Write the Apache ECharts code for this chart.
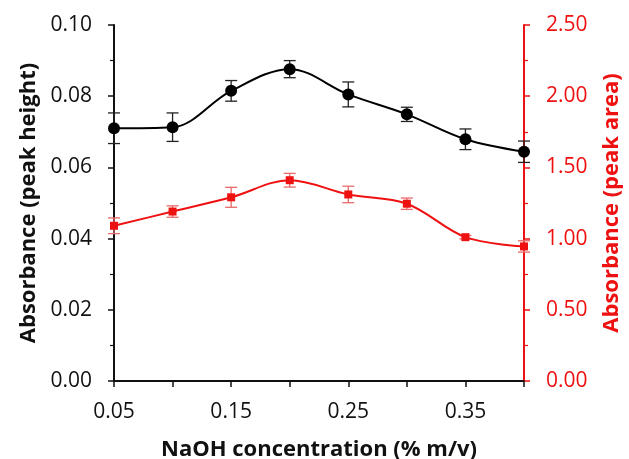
<!DOCTYPE html>
<html>
<head>
<meta charset="utf-8">
<script src="https://cdn.jsdelivr.net/npm/echarts@6/dist/echarts.min.js"></script>
<style>
html, body { margin: 0; padding: 0; background: #fff; }
#main { width: 629px; height: 459px; }
</style>
</head>
<body>
<div id="main"></div>
<script>
// NaOH 浓度
let conc = [0.05, 0.10, 0.15, 0.20, 0.25, 0.30, 0.35, 0.40];
// 峰高 (左轴)
let heightVal = [0.0710, 0.0713, 0.0815, 0.0876, 0.0805, 0.0749, 0.0679, 0.0644];
let heightErr = [0.0043, 0.0040, 0.0029, 0.0024, 0.0035, 0.0020, 0.0029, 0.0030];
// 峰面积 (右轴)
let areaVal = [1.09, 1.19, 1.29, 1.41, 1.31, 1.245, 1.01, 0.945];
let areaErr = [0.055, 0.040, 0.070, 0.048, 0.058, 0.040, 0.012, 0.040];

let font = "'Open Sans', sans-serif";

function pairs(vals) {
    return conc.map((x, i) => [x, vals[i]]);
}
function errPairs(vals, errs) {
    return conc.map((x, i) => [x, vals[i] - errs[i], vals[i] + errs[i]]);
}
// 误差棒
function errBar(color) {
    return function (params, api) {
        let lo = api.coord([api.value(0), api.value(1)]);
        let hi = api.coord([api.value(0), api.value(2)]);
        let w = 6;
        let st = { stroke: color, lineWidth: 1.3 };
        return {
            type: 'group',
            children: [
                { type: 'line', shape: { x1: lo[0], y1: lo[1], x2: hi[0], y2: hi[1] }, style: st },
                { type: 'line', shape: { x1: lo[0] - w, y1: lo[1], x2: lo[0] + w, y2: lo[1] }, style: st },
                { type: 'line', shape: { x1: hi[0] - w, y1: hi[1], x2: hi[0] + w, y2: hi[1] }, style: st }
            ]
        };
    };
}

let myChart = echarts.init(document.getElementById('main'));
let red = '#ee1111';
let option = {
    animation: false,
    grid: { left: 114, right: 105, top: 25, bottom: 78, outerBoundsMode: 'none' },
    xAxis: [
        {
            type: 'value',
            min: 0.05,
            max: 0.40,
            interval: 0.05,
            name: 'NaOH concentration (% m/v)',
            nameLocation: 'middle',
            nameGap: 58,
            nameTextStyle: { fontFamily: font, fontWeight: 'bold', fontSize: 22, color: '#111' },
            axisLine: { lineStyle: { color: '#111', width: 2 } },
            axisTick: { length: 6, lineStyle: { color: '#111', width: 1.5 } },
            splitLine: { show: false },
            axisLabel: {
                margin: 21,
                fontFamily: font,
                fontSize: 21,
                color: '#111',
                formatter: function (v) {
                    return Math.round(v * 100) % 10 === 5 ? v.toFixed(2) : '';
                }
            }
        },
        {
            type: 'value',
            position: 'top',
            min: 0.05,
            max: 0.40,
            axisLine: { show: true, lineStyle: { color: '#111', width: 2 } },
            axisTick: { show: false },
            axisLabel: { show: false },
            splitLine: { show: false }
        }
    ],
    yAxis: [
        {
            type: 'value',
            min: 0,
            max: 0.10,
            interval: 0.02,
            name: 'Absorbance (peak height)',
            nameLocation: 'middle',
            nameRotate: 90,
            nameGap: 74,
            nameTextStyle: { fontFamily: font, fontWeight: 'bold', fontSize: 22, color: '#111' },
            axisLine: { show: true, lineStyle: { color: '#111', width: 2 } },
            axisTick: { show: true, length: 6, lineStyle: { color: '#111', width: 1.5 } },
            minorTick: { show: true, splitNumber: 2, length: 4, lineStyle: { color: '#111', width: 1.2 } },
            splitLine: { show: false },
            axisLabel: {
                margin: 22,
                fontFamily: font,
                fontSize: 21,
                color: '#111',
                formatter: v => v.toFixed(2)
            }
        },
        {
            type: 'value',
            position: 'right',
            min: 0,
            max: 2.5,
            interval: 0.5,
            name: 'Absorbance (peak area)',
            nameLocation: 'middle',
            nameRotate: 90,
            nameGap: 77,
            nameTextStyle: { fontFamily: font, fontWeight: 'bold', fontSize: 22, color: red },
            axisLine: { show: true, lineStyle: { color: red, width: 2 } },
            axisTick: { show: true, length: 6, lineStyle: { color: red, width: 1.5 } },
            minorTick: { show: true, splitNumber: 2, length: 4, lineStyle: { color: red, width: 1.2 } },
            splitLine: { show: false },
            axisLabel: {
                margin: 22,
                fontFamily: font,
                fontSize: 21,
                color: red,
                formatter: v => v.toFixed(2)
            }
        }
    ],
    series: [
        {
            type: 'custom',
            yAxisIndex: 1,
            renderItem: errBar('#e86a6a'),
            encode: { x: 0, y: [1, 2] },
            data: errPairs(areaVal, areaErr),
            z: 1
        },
        {
            type: 'line',
            yAxisIndex: 1,
            smooth: 0.35,
            symbol: 'rect',
            symbolSize: 8,
            itemStyle: { color: red },
            lineStyle: { color: red, width: 2 },
            data: pairs(areaVal),
            z: 2
        },
        {
            type: 'custom',
            yAxisIndex: 0,
            renderItem: errBar('#222'),
            encode: { x: 0, y: [1, 2] },
            data: errPairs(heightVal, heightErr),
            z: 3
        },
        {
            type: 'line',
            yAxisIndex: 0,
            smooth: 0.35,
            symbol: 'circle',
            symbolSize: 12,
            itemStyle: { color: '#000' },
            lineStyle: { color: '#000', width: 2 },
            data: pairs(heightVal),
            z: 4
        }
    ]
};
myChart.setOption(option);
</script>
</body>
</html>
